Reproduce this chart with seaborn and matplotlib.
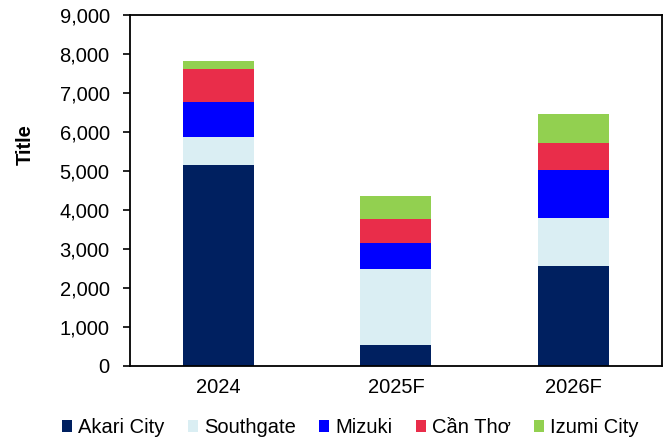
import matplotlib
matplotlib.use("Agg")
import matplotlib.pyplot as plt
import matplotlib.ticker as mticker
from matplotlib.patches import Patch
import numpy as np
import seaborn as sns

categories = ["2024", "2025F", "2026F"]
series_names = ["Akari City", "Southgate", "Mizuki", "Cần Thơ", "Izumi City"]
akari = [5160, 520, 2570]
southgate = [710, 1960, 1220]
mizuki = [910, 680, 1250]
can_tho = [840, 620, 670]
izumi = [220, 580, 760]
colors = ["#002060", "#DAEEF3", "#0000FF", "#E92D4A", "#92D050"]

sns.set_style("white")
plt.rcParams["font.family"] = ["Liberation Sans", "DejaVu Sans"]
plt.rcParams["text.color"] = "black"
plt.rcParams["axes.labelcolor"] = "black"
plt.rcParams["xtick.color"] = "black"
plt.rcParams["ytick.color"] = "black"

fig, ax = plt.subplots(figsize=(6.66, 4.41), dpi=100)
fig.subplots_adjust(left=0.195, right=0.994, top=0.965, bottom=0.171)

values = np.array([akari, southgate, mizuki, can_tho, izumi])
cumulative = values.cumsum(axis=0)

# draw tallest cumulative totals first, smaller ones on top
for i in range(len(series_names) - 1, -1, -1):
    sns.barplot(x=categories, y=cumulative[i], color=colors[i], width=0.4,
                saturation=1, ax=ax, edgecolor="none")

ax.set_xlim(-0.5, 2.5)
ax.set_ylim(0, 9000)
ax.yaxis.set_major_locator(mticker.MultipleLocator(1000))
ax.yaxis.set_major_formatter(mticker.FuncFormatter(lambda v, p: f"{int(v):,}"))

ax.set_xticks([-0.5, 0.5, 1.5, 2.5])
ax.set_xticklabels([])
ax.set_xticks([0, 1, 2], minor=True)
ax.set_xticklabels(categories, minor=True)
ax.tick_params(axis="x", which="major", direction="out", length=5, width=1.2, color="black")
ax.tick_params(axis="x", which="minor", length=0, labelsize=14.5, pad=9, labelcolor="black")
ax.tick_params(axis="y", direction="out", length=5, width=1.2, color="black",
               labelsize=14.5, pad=9.5, left=True, labelcolor="black")

for side in ["left", "right", "top", "bottom"]:
    ax.spines[side].set_visible(True)
    ax.spines[side].set_color("black")
    ax.spines[side].set_linewidth(1.3)

ax.set_ylabel("Title", fontsize=14.5, fontweight="bold", color="black")
ax.yaxis.set_label_coords(-0.178, 0.63)
ax.set_xlabel("")

handles = [Patch(facecolor=c, edgecolor="none") for c in colors]
fig.legend(handles, series_names, loc="center", bbox_to_anchor=(0.526, 0.03),
           ncol=5, frameon=False, fontsize=14.5, handlelength=0.5, handleheight=0.5,
           handletextpad=0.3, columnspacing=1.15, labelcolor="black")

fig.savefig("out.png", dpi=100)
